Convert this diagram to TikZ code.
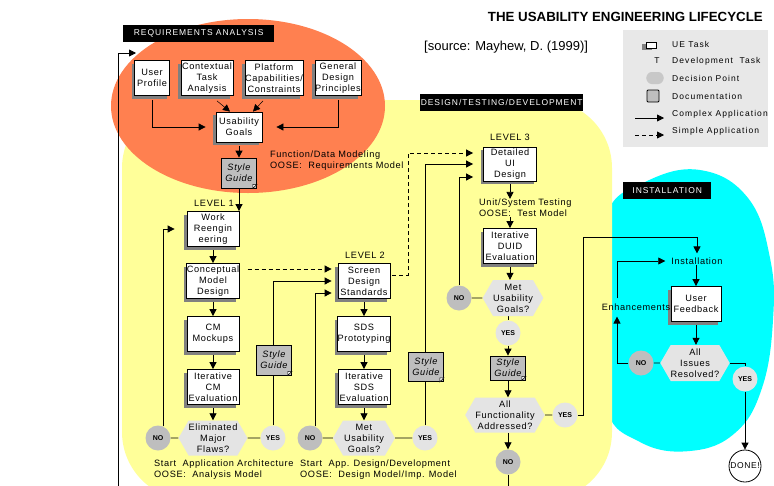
\documentclass[tikz,border=0pt]{standalone}
\usepackage{fontspec}
\setmainfont{Liberation Sans}
\newfontfamily\lsp[LetterSpace=7]{Liberation Sans}
\newfontfamily\lspw[LetterSpace=11]{Liberation Sans}
\newfontfamily\lspx[LetterSpace=12.5]{Liberation Sans}
\usetikzlibrary{arrows.meta,shapes.symbols,shadows,calc}
\pgfdeclarelayer{back}
\pgfdeclarelayer{wires}
\pgfsetlayers{back,wires,main}
\definecolor{reqorange}{RGB}{255,128,80}
\definecolor{devyellow}{RGB}{255,255,153}
\definecolor{instcyan}{RGB}{0,255,255}
\definecolor{legendgray}{RGB}{232,232,232}
\definecolor{docgray}{RGB}{190,190,190}
\definecolor{decgray}{RGB}{228,228,228}
\definecolor{nogray}{RGB}{190,190,190}
\definecolor{shadowgray}{RGB}{128,128,128}
\begin{document}
\begin{tikzpicture}[x=1pt,y=-1pt,
  every node/.style={inner sep=0pt},
  lbl/.style={font=\lsp\fontsize{9.2}{11}\selectfont, align=center},
  boxbase/.style={lbl, draw, line width=0.8pt, fill=white, minimum height=35pt},
  task/.style={boxbase, general shadow={fill=shadowgray, shadow xshift=-3pt, shadow yshift=-3pt}},
  doc/.style={font=\lsp\itshape\fontsize{9.2}{11}\selectfont, align=center, draw,
     line width=0.8pt, fill=docgray, minimum width=35pt, minimum height=30pt},
  decision/.style={lbl, signal, signal to=east and west, signal pointer angle=120,
     fill=decgray, minimum height=35pt},
  circ/.style={circle, minimum size=25pt, font=\bfseries\fontsize{7}{8}\selectfont},
  nonode/.style={circ, fill=nogray},
  yesnode/.style={circ, fill=decgray},
  banner/.style={fill=black, text=white, font=\lspw\fontsize{8.5}{10}\selectfont,
     minimum height=17pt, align=center},
  note/.style={font=\lsp\fontsize{9.2}{11}\selectfont, align=left, anchor=west},
  leg/.style={font=\lspx\fontsize{8.5}{10}\selectfont, anchor=west},
  wire/.style={line width=0.8pt},
  arr/.style={wire, -{Triangle[length=7pt,width=7pt]}},
  dsh/.style={arr, dash pattern=on 4pt off 3pt}
]
\useasboundingbox (0,0) rectangle (774,485);
\clip (0,0) rectangle (774,485);

% ---------- coloured phase regions ----------
\begin{pgfonlayer}{back}
  \fill[white] (0,0) rectangle (774,485);
  \fill[instcyan] plot[smooth cycle, tension=0.7] coordinates
    {(700,170) (748,198) (770,258) (773,320) (762,388) (735,433) (690,451)
     (640,442) (605,405) (598,300) (606,215) (645,182)};
  \fill[devyellow, rounded corners=68pt] (122,100) rectangle (612,500);
  \fill[reqorange] (248,106) ellipse [x radius=137pt, y radius=87pt];
\end{pgfonlayer}

% ---------- headings ----------
\node[font=\bfseries\fontsize{13.3}{15}\selectfont, anchor=east] (title) at (763,17)
  {THE USABILITY ENGINEERING LIFECYCLE};
\node[font=\fontsize{13}{15}\selectfont, anchor=west] (src) at (424,47)
  {[source: Mayhew, D. (1999)]};
\node[banner, minimum width=151pt, anchor=west] (reqlbl) at (123,33.5) {REQUIREMENTS ANALYSIS};
\node[banner, minimum width=163pt, anchor=west] (devlbl) at (420,102.5) {DESIGN/TESTING/DEVELOPMENT};
\node[banner, minimum width=88pt, anchor=west] (inslbl) at (623,190.5) {INSTALLATION};

% ---------- legend ----------
\fill[legendgray] (623,30) rectangle (768,147);
\node[boxbase, minimum width=10pt, minimum height=6pt,
  general shadow={fill=shadowgray, shadow xshift=-4pt, shadow yshift=-2pt}] (legtask) at (651,45) {};
\node[leg] (legtaskt) at (672,44) {UE Task};
\node[font=\lsp\fontsize{8.5}{10}\selectfont] (legT) at (657,61) {T};
\node[leg] (legTt) at (672,61) {Development\ \ Task};
\node[signal, signal to=east and west, signal pointer angle=120, fill=nogray!85,
  minimum width=19pt, minimum height=12pt, rounded corners=2.5pt] (legdec) at (655,78) {};
\node[leg] (legdect) at (672,78) {Decision Point};
\node[draw, fill=docgray, minimum size=12pt, rounded corners=1pt, line width=0.8pt] (legdoc) at (653,96) {};
\node[leg] (legdoct) at (672,96) {Documentation};
\coordinate (lsa) at (635,118); \coordinate (lsb) at (664,118);
\draw[arr] (lsa) -- (lsb);
\node[leg] (legsol) at (672,114) {Complex Application};
\coordinate (lda) at (635,135); \coordinate (ldb) at (664,135);
\draw[dsh] (lda) -- (ldb);
\node[leg] (legdsh) at (672,131) {Simple Application};

% ---------- requirements analysis ----------
\node[task, minimum width=35pt] (up)  at (152,78) {User\\Profile};
\node[task, minimum width=52pt] (cta) at (207,78) {Contextual\\Task\\Analysis};
\node[task, minimum width=58pt] (pcc) at (274,78) {Platform\\Capabilities/\\Constraints};
\node[task, minimum width=46pt] (gdp) at (338,78) {General\\Design\\Principles};
\node[task, minimum width=46pt, minimum height=30pt] (ug) at (239,127) {Usability\\Goals};
\node[doc] (sg0) at (239,173) {Style\\Guide};
\node[note] (fdm) at (270,161) {Function/Data Modeling\\OOSE:\ \ Requirements Model};

% ---------- level 1 ----------
\node[lbl] (lv1) at (214,203) {LEVEL 1};
\node[task, minimum width=52pt] (wr)  at (213,229) {Work\\Reengin\\eering};
\node[task, minimum width=52pt] (cmd) at (213,281) {Conceptual\\Model\\Design};
\node[task, minimum width=52pt] (cmm) at (213,334) {CM\\Mockups};
\node[task, minimum width=52pt] (cme) at (213,387) {Iterative\\CM\\Evaluation};
\node[decision, minimum width=64pt] (d1) at (213,438) {Eliminated\\Major\\Flaws?};
\node[nonode] (no1) at (158,438) {NO};
\node[yesnode] (yes1) at (273,438) {YES};
\node[doc] (sg1) at (274,360) {Style\\Guide};
\node[note] (saa) at (154,470) {Start\ \ Application Architecture\\OOSE:\ \ Analysis Model};

% ---------- level 2 ----------
\node[lbl] (lv2) at (365,255) {LEVEL 2};
\node[task, minimum width=52pt] (sds) at (364,281) {Screen\\Design\\Standards};
\node[task, minimum width=52pt] (sdp) at (364,334) {SDS\\Prototyping};
\node[task, minimum width=52pt] (sde) at (364,387) {Iterative\\SDS\\Evaluation};
\node[decision, minimum width=62pt] (d2) at (364,438) {Met\\Usability\\Goals?};
\node[nonode] (no2) at (310,438) {NO};
\node[yesnode] (yes2) at (425,438) {YES};
\node[doc, minimum height=29pt] (sg2) at (426,367) {Style\\Guide};
\node[note] (sad) at (300,470) {Start\ \ App. Design/Development\\OOSE:\ \ Design Model/Imp. Model};

% ---------- level 3 ----------
\node[lbl] (lv3) at (510,137) {LEVEL 3};
\node[task, minimum width=53pt, minimum height=34pt] (dui) at (510,164) {Detailed\\UI\\Design};
\node[note] (ust) at (479,208) {Unit/System Testing\\OOSE:\ \ Test Model};
\node[task, minimum width=53pt] (due) at (510,246) {Iterative\\DUID\\Evaluation};
\node[decision, minimum width=55pt, minimum height=36pt] (d3) at (513,298) {Met\\Usability\\Goals?};
\node[nonode] (no3) at (459,298) {NO};
\node[yesnode] (yes3) at (508,333) {YES};
\node[doc, minimum height=24pt] (sg3) at (508,368) {Style\\Guide};
\node[decision, minimum width=75pt] (d4) at (505,415) {All\\Functionality\\Addressed?};
\node[yesnode] (yes4) at (565,415) {YES};
\node[nonode] (no4) at (508,462) {NO};

% ---------- installation ----------
\node[lbl] (inst) at (697,261) {Installation};
\node[task, minimum width=50pt] (uf) at (696,304) {User\\Feedback};
\node[decision, minimum width=66pt, minimum height=36pt] (d5) at (695,363) {All\\Issues\\Resolved?};
\node[nonode] (no5) at (641,363) {NO};
\node[yesnode] (yes5) at (745,379) {YES};
\node[lbl] (enh) at (636,307) {Enhancements};
\node[circle, draw, fill=white, line width=0.8pt, minimum size=32pt,
  font=\lsp\fontsize{8.5}{10}\selectfont] (done) at (745,466) {DONE!};

% folded corners of the style guide sheets
\foreach \n in {sg0,sg1,sg2,sg3}
  \filldraw[fill=white, line width=0.5pt] ([xshift=-4pt]\n.south east) -- ([yshift=4pt]\n.south east)
    -- ([shift={(-4pt,4pt)}]\n.south east) -- cycle;

% loose ends of the iteration loop
\coordinate (exitB) at (508,492);
\coordinate (exitL) at (118,492);
\coordinate (retT) at (136,53);

% ---------- connectors ----------
\begin{pgfonlayer}{wires}
  % requirements
  \draw[arr] ([yshift=-4pt]up.south) |- ([xshift=-10pt]ug.west);
  \draw[arr] ([yshift=-4pt]gdp.south) |- ([xshift=14pt]ug.east);
  \draw[arr, line width=0.5pt] ([shift={(10pt,-5pt)}]cta.south) -- ([xshift=-9pt]ug.north);
  \draw[arr, line width=0.5pt] ([shift={(-11pt,-5pt)}]pcc.south) -- ([xshift=14pt]ug.north);
  \draw[arr] ([yshift=-4pt]ug.south) -- (sg0.north);
  \draw[arr] (sg0.south) -- (sg0.south |- wr.north);
  % level columns
  \foreach \a/\b in {wr/cmd, cmm/cme, cmd/cmm, sds/sdp, sdp/sde}
    \draw[arr] ([yshift=-3pt]\a.south) -- (\b.north);
  \draw[arr] ([yshift=-3pt]cme.south) -- (d1.north);
  \draw[arr] ([yshift=-3pt]sde.south) -- (d2.north);
  \draw[wire] (no1) -- (d1);
  \draw[wire] (d1) -- (yes1);
  \draw[wire] (no2) -- (d2);
  \draw[wire] (d2) -- (yes2);
  % level 1 loops
  \draw[arr] (no1.65) |- ([xshift=-12pt]wr.west);
  \draw[arr] (yes1.north) |- ([xshift=-6pt]sds.west);
  \draw[dsh] ([shift={(8pt,12pt)}]cmd.east) -- ([shift={(-6pt,12pt)}]sds.west);
  % level 2 loops
  \draw[arr] (no2.65) |- ([shift={(-6pt,-12pt)}]sds.west);
  \draw[dsh] ([shift={(2pt,6pt)}]sds.east) -- ++(16,0) |- ([shift={(-10pt,11pt)}]dui.west);
  \draw[arr] (yes2.north) |- ([xshift=-10pt]dui.west);
  % level 3
  \draw[arr] (no3.north) |- ([shift={(-10pt,-13pt)}]dui.west);
  \draw[wire] (no3) -- (d3);
  \draw[arr] ([yshift=-3pt]dui.south) -- (dui.south |- ust.north);
  \draw[arr] (dui.south |- ust.south) -- (due.north);
  \draw[arr] ([yshift=-3pt]due.south) -- (due.south |- d3.north);
  \draw[wire] (yes3 |- d3.south) -- (yes3.north);
  \draw[arr] (yes3.south) -- (sg3.north);
  \draw[arr] (sg3.south) -- (sg3.south |- d4.north);
  \draw[wire] (d4) -- (yes4);
  \draw[arr] (no4 |- d4.south) -- (no4.north);
  \draw[wire] (no4.south) -- (exitB);
  \draw[arr] (exitL) |- (retT);
  % installation
  \draw[arr] (yes4.east) -- ++(6,0) |- ([yshift=20pt]inst.north) -- ([yshift=4pt]inst.north);
  \draw[arr] (uf.north |- inst.south) -- (uf.north);
  \draw[arr] ([yshift=-3pt]uf.south) -- (uf.south |- d5.north);
  \draw[wire] (no5) -- (d5);
  \draw[arr] (no5.west) -| ([shift={(-19pt,-6pt)}]enh.south);
  \draw[arr] ([shift={(-19pt,5pt)}]enh.north) |- ([xshift=-6pt]inst.west);
  \draw[wire] (d5.east) -| (yes5.north);
  \draw[arr] (yes5.south) -- (done.north);
\end{pgfonlayer}
\end{tikzpicture}
\end{document}
